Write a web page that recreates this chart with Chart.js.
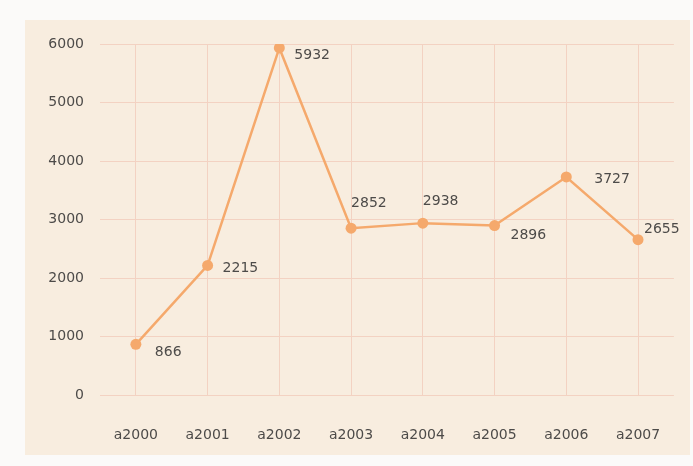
<!DOCTYPE html>
<html>
<head>
<meta charset="utf-8">
<script src="https://cdn.jsdelivr.net/npm/chart.js@4"></script>
<style>
  html, body { margin: 0; padding: 0; background: #f7f5f3; }
  #wrap { width: 693px; height: 466px; }
</style>
</head>
<body>
<div id="wrap"><canvas id="line-chart" width="693" height="466"></canvas></div>
<script>
const categories = ['a2000', 'a2001', 'a2002', 'a2003', 'a2004', 'a2005', 'a2006', 'a2007'];
const values = [866, 2215, 5932, 2852, 2938, 2896, 3727, 2655];
const yTicks = [0, 1000, 2000, 3000, 4000, 5000, 6000];

// where each value label sits, relative to its point
const labelOffsets = [[19, 8], [15, 3], [15, 7], [0, -25], [0, -22], [16, 10], [28, 2], [6, -10]];

const orange = '#f5a96c';
const gridColor = '#f3d2c2';
const textColor = '#4d4b49';
const fontFamily = '"DejaVu Sans", Lato, sans-serif';

// beige page panel behind the chart
const panelPlugin = {
    id: 'panel',
    beforeDraw(chart) {
        const c = chart.ctx;
        c.save();
        c.fillStyle = '#fbfaf9';
        c.fillRect(0, 0, chart.width, chart.height);
        c.fillStyle = '#f8eddf';
        c.fillRect(25, 20, 665, 435);
        c.restore();
    }
};

// value labels next to the points
const valueLabels = {
    id: 'valueLabels',
    afterDatasetsDraw(chart) {
        const c = chart.ctx;
        const meta = chart.getDatasetMeta(0);
        c.save();
        c.font = '14px ' + fontFamily;
        c.fillStyle = textColor;
        c.textAlign = 'left';
        c.textBaseline = 'middle';
        meta.data.forEach(function(pt, i) {
            const off = labelOffsets[i];
            c.fillText(String(values[i]), pt.x + off[0], pt.y + off[1]);
        });
        c.restore();
    }
};

const ctx = document.getElementById('line-chart').getContext('2d');
new Chart(ctx, {
    type: 'line',
    data: {
        labels: categories,
        datasets: [{
            data: values,
            borderColor: orange,
            backgroundColor: orange,
            borderWidth: 2.5,
            pointRadius: 5.5,
            pointBorderWidth: 0,
            tension: 0
        }]
    },
    options: {
        responsive: false,
        animation: false,
        layout: { padding: { left: 0, right: 14, top: 44, bottom: 0 } },
        plugins: {
            legend: { display: false },
            tooltip: { enabled: false }
        },
        scales: {
            x: {
                offset: true,
                grid: { offset: false, color: gridColor, lineWidth: 1, tickLength: 0 },
                border: { display: false },
                ticks: { color: textColor, padding: 32, font: { size: 14, family: fontFamily } },
                afterFit(scale) { scale.height = 71; }
            },
            y: {
                min: 0,
                max: 6000,
                afterBuildTicks(scale) { scale.ticks = yTicks.map(v => ({ value: v })); },
                grid: { color: gridColor, lineWidth: 1, tickLength: 0 },
                border: { display: false },
                ticks: {
                    color: textColor,
                    padding: 16,
                    font: { size: 14, family: fontFamily },
                    callback: function(value) { return String(value); }
                },
                afterFit(scale) { scale.width = 100; }
            }
        }
    },
    plugins: [panelPlugin, valueLabels]
});
</script>
</body>
</html>
